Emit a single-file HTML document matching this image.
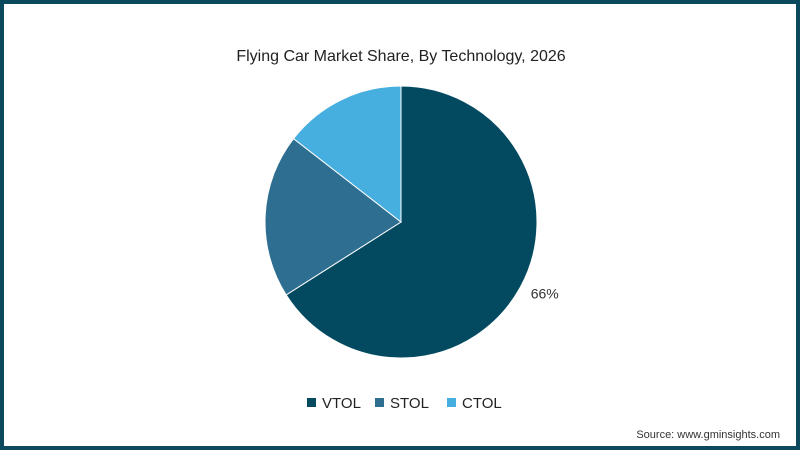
<!DOCTYPE html>
<html><head><meta charset="utf-8"><style>
html,body{margin:0;padding:0;background:#fff}
#frame{position:relative;width:800px;height:450px;box-sizing:border-box;border:4px solid #0b4a5e;background:#fff;font-family:"Liberation Sans",sans-serif;overflow:hidden}
</style></head><body>
<div id="frame">
<svg id="chart" width="792" height="442" style="position:absolute;left:0;top:0">
<text x="397" y="57" text-anchor="middle" font-size="16" fill="#222">Flying Car Market Share, By Technology, 2026</text>
<g id="slices"></g>
<g id="legend"></g>
<text x="776" y="434" text-anchor="end" font-size="11" fill="#333">Source: www.gminsights.com</text>
</svg>
</div>
<script>
const categories = ["VTOL","STOL","CTOL"];
const shares = [66, 19.5, 14.5];
const labels = ["66%", "", ""];
const colors = ["#034a61","#2e6e91","#47aee0"];
const cx=397, cy=218, r=136;
const ns="http://www.w3.org/2000/svg";
const g=document.getElementById('slices');
const total=shares.reduce((a,b)=>a+b,0);
let acc=0;
shares.forEach((v,i)=>{
  const a0=acc/total*2*Math.PI; acc+=v; const a1=acc/total*2*Math.PI;
  const p=(a)=>[cx+r*Math.sin(a), cy-r*Math.cos(a)];
  const [x0,y0]=p(a0),[x1,y1]=p(a1);
  const large=(a1-a0)>Math.PI?1:0;
  const path=document.createElementNS(ns,'path');
  path.setAttribute('d',`M${cx},${cy} L${x0},${y0} A${r},${r} 0 ${large} 1 ${x1},${y1} Z`);
  path.setAttribute('fill',colors[i]);
  path.setAttribute('stroke','#fff');
  path.setAttribute('stroke-width','1');
  
  
  g.appendChild(path);
  if(labels[i]){
    const am=(a0+a1)/2;
    const t=document.createElementNS(ns,'text');
    t.setAttribute('x',cx+(r+12)*Math.sin(am));
    t.setAttribute('y',cy-(r+12)*Math.cos(am)+5);
    t.setAttribute('font-size','14');
    t.setAttribute('fill','#333');
    
    
    t.textContent=labels[i];
    g.appendChild(t);
  }
});
const lg=document.getElementById('legend');
const lx=[303,371,443];
categories.forEach((c,i)=>{
  const rc=document.createElementNS(ns,'rect');
  rc.setAttribute('x',lx[i]);rc.setAttribute('y',394);rc.setAttribute('width',9);rc.setAttribute('height',9);
  rc.setAttribute('fill',colors[i]);
  
  
  lg.appendChild(rc);
  const t=document.createElementNS(ns,'text');
  t.setAttribute('x',lx[i]+15);t.setAttribute('y',404);t.setAttribute('font-size','15');t.setAttribute('fill','#222');
  
  
  t.textContent=c;
  lg.appendChild(t);
});
</script>
</body></html>
